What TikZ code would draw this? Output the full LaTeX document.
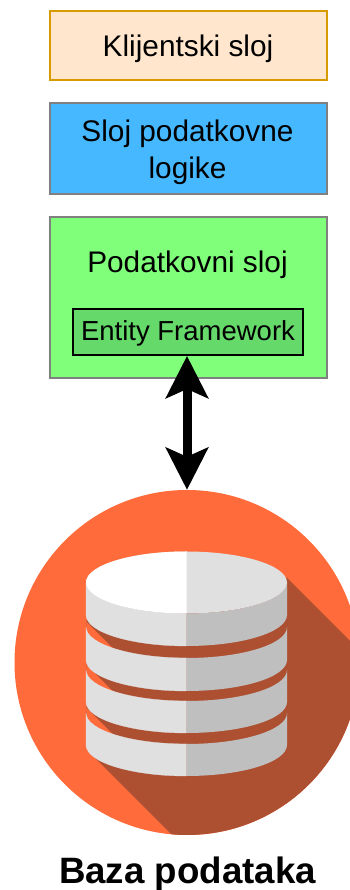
\documentclass[tikz,border=0pt]{standalone}
\usepackage{fontspec}
\setmainfont{Liberation Sans}
\usetikzlibrary{arrows.meta}
\definecolor{klijentfill}{HTML}{FFE6CC}
\definecolor{klijentdraw}{HTML}{D79B00}
\definecolor{logikafill}{HTML}{45B8FF}
\definecolor{podacifill}{HTML}{80FF7A}
\definecolor{entityfill}{HTML}{66D96B}
\definecolor{bazafill}{HTML}{FF6B3A}
\definecolor{sjena}{HTML}{AD5032}
\definecolor{svijetla}{HTML}{E0E0E0}
\definecolor{tamna}{HTML}{BFBFBF}
\tikzset{
  layer/.style={rectangle,draw=gray,line width=2pt,minimum width=277pt,inner sep=0pt,align=center,font=\fontsize{29.8}{37}\selectfont},
  label/.style={inner sep=0pt,align=center,font=\fontsize{29.8}{37}\selectfont}
}
\begin{document}
\begin{tikzpicture}[x=1pt,y=1pt]
  \useasboundingbox (0,0) rectangle (349,890);
  \node[layer,draw=klijentdraw,fill=klijentfill,minimum height=69pt,text height=27pt,text depth=4pt] (klijent) at (188,844.5) {Klijentski sloj};
  \node[layer,fill=logikafill,minimum height=91pt] (logika) at (188,741.5) {};
  \node[label] (logikalbl) at (187.5,737.8) {Sloj podatkovne\\logike};
  \node[layer,fill=podacifill,minimum height=161pt] (podaci) at (188,592.5) {};
  \node[label,anchor=base] (podacilbl) at (187.5,617.8) {Podatkovni sloj};
  \node[rectangle,draw=black,line width=2pt,fill=entityfill,minimum width=230pt,minimum height=46pt,inner sep=0pt,text height=22pt,text depth=5pt,font=\fontsize{27.5}{32}\selectfont] (entity) at (188,558) {Entity Framework};
  % baza
  \node[circle,fill=bazafill,minimum size=345pt,inner sep=0pt] (baza) at (187,227.5) {};
  \begin{scope}
    \clip (baza.center) circle[radius=172.5pt];
    \fill[sjena] (287,312) -- (449,150) -- (449,-73) -- (300,-73) -- (92,135) -- (86.5,145) -- (86.5,312) -- cycle;
  \end{scope}
  \foreach \ytop in {263,220,177} {
    \fill[bazafill] (86.5,\ytop+5) -- (126.5,\ytop-35) -- (86.5,\ytop-35) -- cycle;
  }
  \foreach \ytop/\ybot in {307.5/275,263/230,220/188,177/145} {
    \filldraw[svijetla,line width=.3pt] (86,\ytop) -- (86,\ybot) arc[start angle=180,end angle=270,x radius=100.5pt,y radius=31pt] -- (186.5,\ytop-31) arc[start angle=270,end angle=180,x radius=100.5pt,y radius=31pt] -- cycle;
    \fill[tamna] (287,\ytop) -- (287,\ybot) arc[start angle=360,end angle=270,x radius=100.5pt,y radius=31pt] -- (186.5,\ytop-31) arc[start angle=270,end angle=360,x radius=100.5pt,y radius=31pt] -- cycle;
  }
  \fill[svijetla] (186.5,307.5) ellipse[x radius=100.5pt,y radius=31pt];
  \fill[white] (186.5,338.5) arc[start angle=90,end angle=270,x radius=100.5pt,y radius=31pt] -- cycle;
  \draw[line width=9pt,{Stealth[length=42pt,width=42pt,inset=9pt]}-{Stealth[length=42pt,width=42pt,inset=9pt]}] (baza.north |- entity.south) -- (baza.north);
  \node[inner sep=0pt,anchor=base,font=\bfseries\fontsize{36.7}{40}\selectfont] (bazalbl) at (187.5,6) {Baza podataka};
\end{tikzpicture}
\end{document}
